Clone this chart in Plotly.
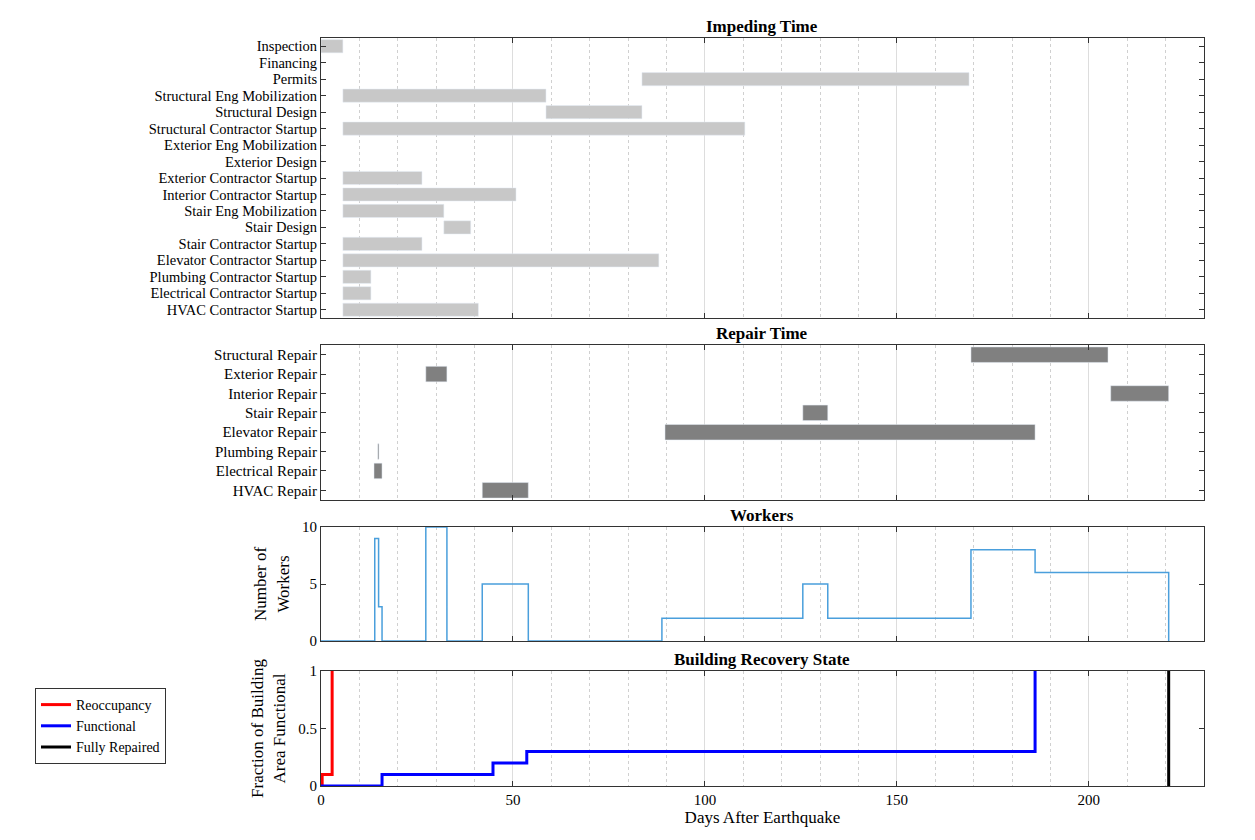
import plotly.graph_objects as go

# IMPEDING TIME
imp_labels = ["Inspection", "Financing", "Permits", "Structural Eng Mobilization", "Structural Design",
              "Structural Contractor Startup", "Exterior Eng Mobilization", "Exterior Design",
              "Exterior Contractor Startup", "Interior Contractor Startup", "Stair Eng Mobilization",
              "Stair Design", "Stair Contractor Startup", "Elevator Contractor Startup",
              "Plumbing Contractor Startup", "Electrical Contractor Startup", "HVAC Contractor Startup"]
imp_start = [0, 0, 83.6, 5.7, 58.6, 5.7, 0, 0, 5.7, 5.7, 5.7, 32, 5.7, 5.7, 5.7, 5.7, 5.7]
imp_end = [5.7, 0, 168.8, 58.6, 83.6, 110.4, 0, 0, 26.3, 50.8, 32, 39, 26.3, 88, 13, 13, 41]

# REPAIR TIME
rep_labels = ["Structural Repair", "Exterior Repair", "Interior Repair", "Stair Repair",
              "Elevator Repair", "Plumbing Repair", "Electrical Repair", "HVAC Repair"]
rep_start = [169.3, 27.3, 205.7, 125.5, 89.6, 14.8, 13.8, 42]
rep_end = [205, 32.8, 220.8, 132, 186, 15.1, 15.9, 54]

# WORKERS (step changes)
work_days = [0, 14, 15, 15.9, 27.3, 32.8, 42, 54, 88.8, 125.5, 132, 169.3, 186, 220.8]
work_num = [0, 9, 3, 0, 10, 0, 5, 0, 2, 5, 2, 8, 6, 0]

# RECOVERY STATE
reocc_days = [0, 0.3, 2.9]
reocc_val = [0, 0.1, 1]
func_days = [0, 15.9, 44.8, 53.6, 186]
func_val = [0, 0.1, 0.2, 0.3, 1]
full_day = 220.8

font = "Liberation Serif"
fig = go.Figure()

fig.add_trace(go.Bar(y=imp_labels, x=[e - s for s, e in zip(imp_start, imp_end)], base=imp_start,
                     orientation="h", marker_color="#c8c8c8", width=0.8, showlegend=False,
                     xaxis="x", yaxis="y"))
fig.add_trace(go.Bar(y=rep_labels, x=[e - s for s, e in zip(rep_start, rep_end)], base=rep_start,
                     orientation="h", marker_color="#808080", width=0.8, showlegend=False,
                     xaxis="x2", yaxis="y2"))
fig.add_trace(go.Scatter(x=work_days, y=work_num, mode="lines", line=dict(color="#4a9fdc", width=1.5, shape="hv"),
                         showlegend=False, xaxis="x3", yaxis="y3"))
fig.add_trace(go.Scatter(x=reocc_days, y=reocc_val, mode="lines", name="Reoccupancy",
                         line=dict(color="red", width=3, shape="hv"), xaxis="x4", yaxis="y4"))
fig.add_trace(go.Scatter(x=func_days, y=func_val, mode="lines", name="Functional",
                         line=dict(color="blue", width=3, shape="hv"), xaxis="x4", yaxis="y4"))
fig.add_trace(go.Scatter(x=[full_day, full_day], y=[0, 1], mode="lines", name="Fully Repaired",
                         line=dict(color="black", width=3), xaxis="x4", yaxis="y4"))

xd = [313 / 1255, 1196 / 1255]
ydoms = [[1 - 310 / 840, 1 - 30 / 840], [1 - 492 / 840, 1 - 337 / 840],
         [1 - 633 / 840, 1 - 519 / 840], [1 - 778 / 840, 1 - 663 / 840]]
axfont = dict(family=font, size=15, color="black")
lay = {}
for i in range(4):
    sx = "" if i == 0 else str(i + 1)
    lay["xaxis" + sx] = dict(domain=xd, range=[0, 230], anchor="y" + sx, showline=True, mirror="ticks",
                             linecolor="#333", ticks="inside", ticklen=5, tickcolor="#333", dtick=50,
                             showgrid=True, gridcolor="#dddddd", zeroline=False, automargin=False,
                             showticklabels=(i == 3), tickfont=axfont,
                             minor=dict(dtick=10, showgrid=True, gridcolor="#d0d0d0", griddash="dot", ticks=""),
                             matches=None if i == 0 else "x")
    lay["yaxis" + sx] = dict(domain=ydoms[i], anchor="x" + sx, showline=True, mirror="ticks", linecolor="#333",
                             ticks="inside", ticklen=5, tickcolor="#333", tickfont=axfont, zeroline=False,
                             showgrid=False, automargin=False)
lay["yaxis"].update(autorange="reversed", categoryorder="array", categoryarray=imp_labels, dtick=1,
                    tickfont=dict(family=font, size=14.5, color="black"))
lay["yaxis2"].update(autorange="reversed", categoryorder="array", categoryarray=rep_labels, dtick=1)
lay["yaxis3"].update(range=[0, 10], tickvals=[0, 5, 10],
                     title=dict(text="Number of<br>Workers", font=dict(family=font, size=17), standoff=8))
lay["yaxis4"].update(range=[0, 1], tickvals=[0, 0.5, 1],
                     title=dict(text="Fraction of Building<br>Area Functional", font=dict(family=font, size=17), standoff=8))
lay["xaxis4"].update(title=dict(text="Days After Earthquake", font=dict(family=font, size=17), standoff=4))

titles = ["Impeding Time", "Repair Time", "Workers", "Building Recovery State"]
anns = []
for t, d in zip(titles, ydoms):
    anns.append(dict(text="<b>" + t + "</b>", x=sum(xd) / 2, y=d[1], xref="paper", yref="paper",
                     xanchor="center", yanchor="bottom", showarrow=False, font=dict(family=font, size=17, color="black")))

fig.update_layout(**lay, annotations=anns, width=1255, height=840, margin=dict(l=0, r=0, t=0, b=0),
                  plot_bgcolor="white", paper_bgcolor="white", bargap=0.2,
                  font=dict(family=font, color="black"),
                  legend=dict(x=27 / 1255, y=1 - 680 / 840, xanchor="left", yanchor="top",
                              bordercolor="#333", borderwidth=1, bgcolor="white",
                              font=dict(family=font, size=14), tracegroupgap=0))
fig.write_html("out.html")
